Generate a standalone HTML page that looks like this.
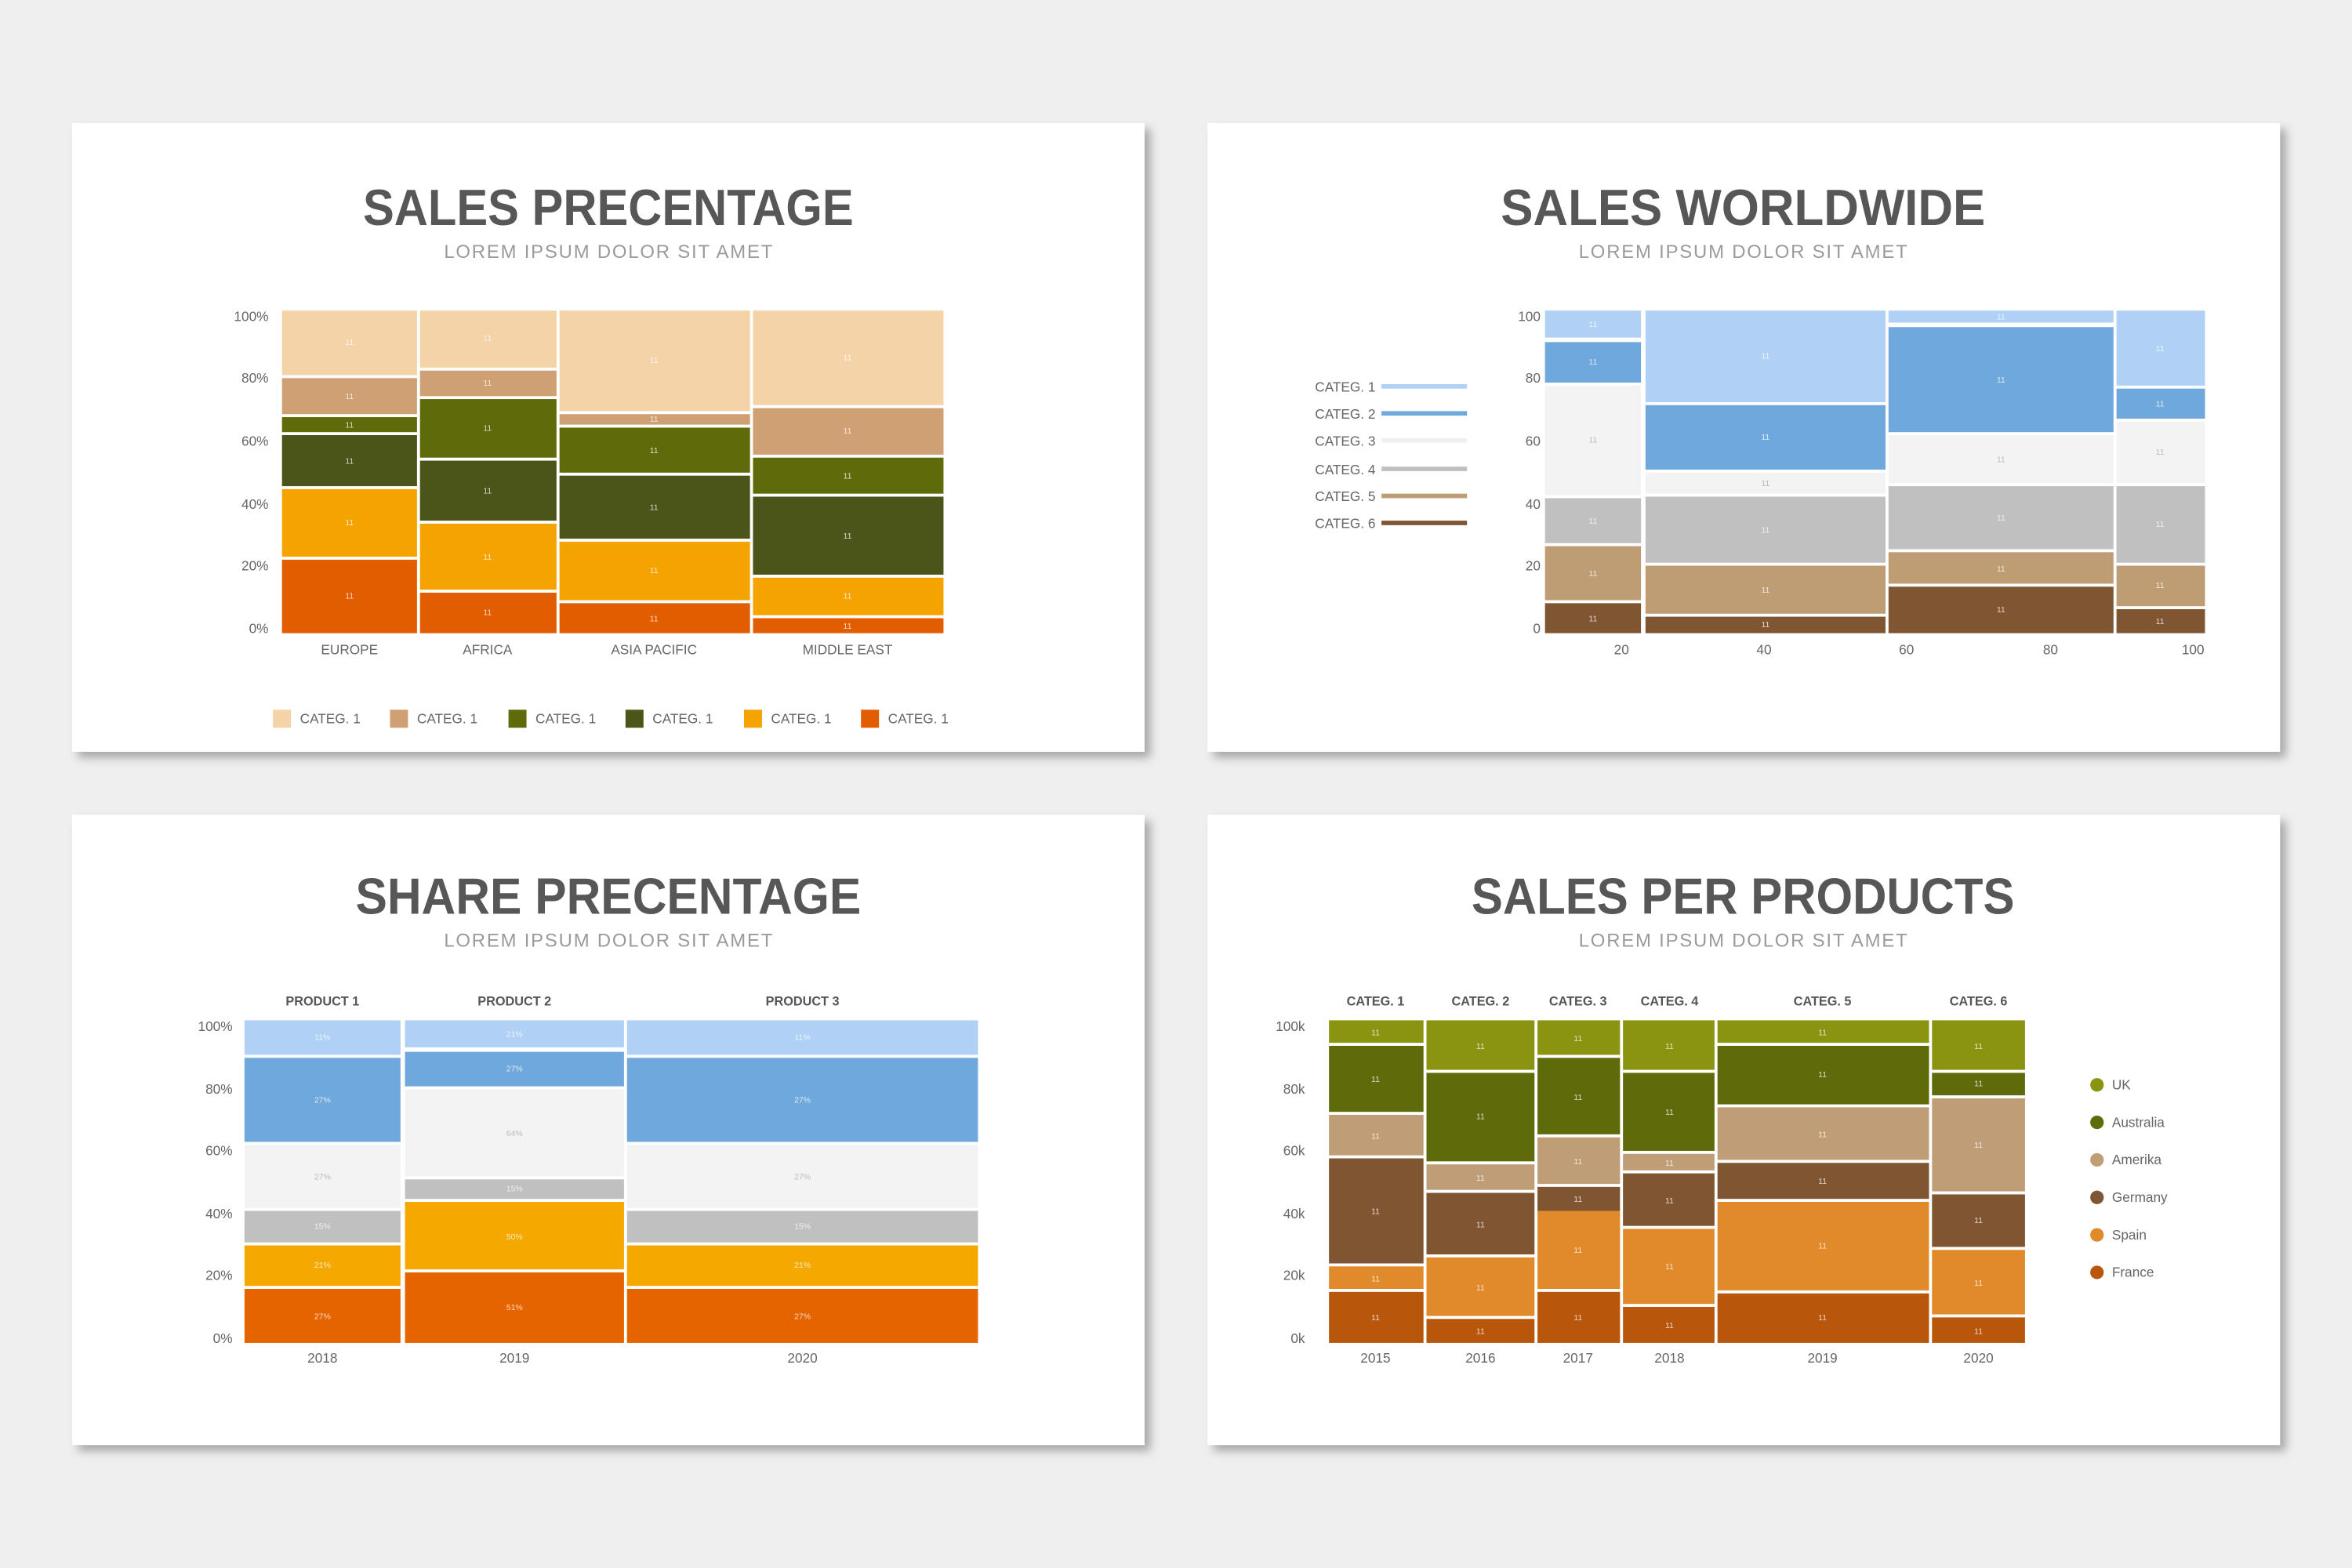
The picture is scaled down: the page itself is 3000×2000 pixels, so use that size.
<!DOCTYPE html>
<html><head><meta charset="utf-8"><style>
html,body{margin:0;padding:0;background:#efefef;}
svg{display:block;}
text{font-family:"Liberation Sans",sans-serif;}
.t{font-weight:bold;font-size:34px;fill:#575757;text-anchor:middle;}
.s{font-size:12.5px;fill:#9a9a9a;text-anchor:middle;}
.ax{font-size:9px;fill:#666;}
.r{text-anchor:end;}
.m{text-anchor:middle;}
.v{font-size:5.5px;fill:#fff;fill-opacity:.75;text-anchor:middle;}
.vg{font-size:5.5px;fill:#bbb;text-anchor:middle;}
.h{font-size:8.5px;font-weight:bold;fill:#555;text-anchor:middle;}
</style></head><body>
<svg width="3000" height="2000" viewBox="0 0 1568 1045" preserveAspectRatio="none">
<defs><filter id="sh" x="-5%" y="-5%" width="115%" height="115%"><feDropShadow dx="4" dy="4" stdDeviation="3" flood-color="#000" flood-opacity="0.3"/></filter></defs>
<rect width="1568" height="1045" fill="#efefef"/>
<g filter="url(#sh)" fill="#fff">
<rect x="48" y="82" width="715" height="419"/>
<rect x="805" y="82" width="715" height="419"/>
<rect x="48" y="543" width="715" height="420"/>
<rect x="805" y="543" width="715" height="420"/>
</g>

<!-- Titles -->
<text class="t" x="405.5" y="150" textLength="327" lengthAdjust="spacingAndGlyphs">SALES PRECENTAGE</text>
<text class="s" x="405.5" y="172" textLength="219" lengthAdjust="spacing">LOREM IPSUM DOLOR SIT AMET</text>
<text class="t" x="1162" y="150" textLength="323" lengthAdjust="spacingAndGlyphs">SALES WORLDWIDE</text>
<text class="s" x="1162" y="172" textLength="219" lengthAdjust="spacing">LOREM IPSUM DOLOR SIT AMET</text>
<text class="t" x="405.5" y="609" textLength="337" lengthAdjust="spacingAndGlyphs">SHARE PRECENTAGE</text>
<text class="s" x="405.5" y="631" textLength="219" lengthAdjust="spacing">LOREM IPSUM DOLOR SIT AMET</text>
<text class="t" x="1162" y="609" textLength="362" lengthAdjust="spacingAndGlyphs">SALES PER PRODUCTS</text>
<text class="s" x="1162" y="631" textLength="219" lengthAdjust="spacing">LOREM IPSUM DOLOR SIT AMET</text>

<!-- Chart 1 -->
<g>
<rect x="188" y="207" width="90" height="43" fill="#f5d3a9"/><rect x="188" y="252" width="90" height="24" fill="#cfa074"/><rect x="188" y="278" width="90" height="10" fill="#5f6b0a"/><rect x="188" y="290" width="90" height="34" fill="#4b5419"/><rect x="188" y="326" width="90" height="45" fill="#f5a300"/><rect x="188" y="373" width="90" height="49" fill="#e25c00"/>
<rect x="280" y="207" width="91" height="38" fill="#f5d3a9"/><rect x="280" y="247" width="91" height="17" fill="#cfa074"/><rect x="280" y="266" width="91" height="39" fill="#5f6b0a"/><rect x="280" y="307" width="91" height="40" fill="#4b5419"/><rect x="280" y="349" width="91" height="44" fill="#f5a300"/><rect x="280" y="395" width="91" height="27" fill="#e25c00"/>
<rect x="373" y="207" width="127" height="67" fill="#f5d3a9"/><rect x="373" y="276" width="127" height="7" fill="#cfa074"/><rect x="373" y="285" width="127" height="30" fill="#5f6b0a"/><rect x="373" y="317" width="127" height="42" fill="#4b5419"/><rect x="373" y="361" width="127" height="39" fill="#f5a300"/><rect x="373" y="402" width="127" height="20" fill="#e25c00"/>
<rect x="502" y="207" width="127" height="63" fill="#f5d3a9"/><rect x="502" y="272" width="127" height="31" fill="#cfa074"/><rect x="502" y="305" width="127" height="24" fill="#5f6b0a"/><rect x="502" y="331" width="127" height="52" fill="#4b5419"/><rect x="502" y="385" width="127" height="25" fill="#f5a300"/><rect x="502" y="412" width="127" height="10" fill="#e25c00"/>
<text class="v" x="233" y="230">11</text><text class="v" x="233" y="266">11</text><text class="v" x="233" y="285">11</text><text class="v" x="233" y="309">11</text><text class="v" x="233" y="350">11</text><text class="v" x="233" y="399">11</text>
<text class="v" x="325" y="227">11</text><text class="v" x="325" y="257">11</text><text class="v" x="325" y="287">11</text><text class="v" x="325" y="329">11</text><text class="v" x="325" y="373">11</text><text class="v" x="325" y="410">11</text>
<text class="v" x="436" y="242">11</text><text class="v" x="436" y="281">11</text><text class="v" x="436" y="302">11</text><text class="v" x="436" y="340">11</text><text class="v" x="436" y="382">11</text><text class="v" x="436" y="414">11</text>
<text class="v" x="565" y="240">11</text><text class="v" x="565" y="289">11</text><text class="v" x="565" y="319">11</text><text class="v" x="565" y="359">11</text><text class="v" x="565" y="399">11</text><text class="v" x="565" y="419">11</text>
<text class="ax r" x="179" y="214">100%</text><text class="ax r" x="179" y="255">80%</text><text class="ax r" x="179" y="297">60%</text><text class="ax r" x="179" y="339">40%</text><text class="ax r" x="179" y="380">20%</text><text class="ax r" x="179" y="422">0%</text>
<text class="ax m" x="233" y="436">EUROPE</text><text class="ax m" x="325" y="436">AFRICA</text><text class="ax m" x="436" y="436">ASIA PACIFIC</text><text class="ax m" x="565" y="436">MIDDLE EAST</text>
<rect x="182" y="473" width="12" height="12" fill="#f5d3a9"/><text class="ax" x="200" y="482">CATEG. 1</text>
<rect x="260" y="473" width="12" height="12" fill="#cfa074"/><text class="ax" x="278" y="482">CATEG. 1</text>
<rect x="339" y="473" width="12" height="12" fill="#5f6b0a"/><text class="ax" x="357" y="482">CATEG. 1</text>
<rect x="417" y="473" width="12" height="12" fill="#4b5419"/><text class="ax" x="435" y="482">CATEG. 1</text>
<rect x="496" y="473" width="12" height="12" fill="#f5a300"/><text class="ax" x="514" y="482">CATEG. 1</text>
<rect x="574" y="473" width="12" height="12" fill="#e25c00"/><text class="ax" x="592" y="482">CATEG. 1</text>
</g>

<!-- Chart 2 -->
<g>
<rect x="1030" y="207" width="64" height="18" fill="#b0d1f5"/><rect x="1030" y="228" width="64" height="27" fill="#6fa8dc"/><rect x="1030" y="257" width="64" height="73" fill="#f3f3f3"/><rect x="1030" y="332" width="64" height="30" fill="#c0c0c0"/><rect x="1030" y="364" width="64" height="36" fill="#bf9d74"/><rect x="1030" y="402" width="64" height="20" fill="#7f5532"/>
<rect x="1097" y="207" width="160" height="61" fill="#b0d1f5"/><rect x="1097" y="270" width="160" height="43" fill="#6fa8dc"/><rect x="1097" y="315" width="160" height="14" fill="#f3f3f3"/><rect x="1097" y="331" width="160" height="44" fill="#c0c0c0"/><rect x="1097" y="377" width="160" height="32" fill="#bf9d74"/><rect x="1097" y="411" width="160" height="11" fill="#7f5532"/>
<rect x="1259" y="207" width="150" height="8" fill="#b0d1f5"/><rect x="1259" y="218" width="150" height="70" fill="#6fa8dc"/><rect x="1259" y="290" width="150" height="32" fill="#f3f3f3"/><rect x="1259" y="324" width="150" height="42" fill="#c0c0c0"/><rect x="1259" y="368" width="150" height="21" fill="#bf9d74"/><rect x="1259" y="391" width="150" height="31" fill="#7f5532"/>
<rect x="1411" y="207" width="59" height="50" fill="#b0d1f5"/><rect x="1411" y="259" width="59" height="20" fill="#6fa8dc"/><rect x="1411" y="281" width="59" height="41" fill="#f3f3f3"/><rect x="1411" y="324" width="59" height="51" fill="#c0c0c0"/><rect x="1411" y="377" width="59" height="27" fill="#bf9d74"/><rect x="1411" y="406" width="59" height="16" fill="#7f5532"/>
<text class="v" x="1062" y="218">11</text><text class="v" x="1062" y="243">11</text><text class="vg" x="1062" y="295">11</text><text class="v" x="1062" y="349">11</text><text class="v" x="1062" y="384">11</text><text class="v" x="1062" y="414">11</text>
<text class="v" x="1177" y="239">11</text><text class="v" x="1177" y="293">11</text><text class="vg" x="1177" y="324">11</text><text class="v" x="1177" y="355">11</text><text class="v" x="1177" y="395">11</text><text class="v" x="1177" y="418">11</text>
<text class="v" x="1334" y="213">11</text><text class="v" x="1334" y="255">11</text><text class="vg" x="1334" y="308">11</text><text class="v" x="1334" y="347">11</text><text class="v" x="1334" y="381">11</text><text class="v" x="1334" y="408">11</text>
<text class="v" x="1440" y="234">11</text><text class="v" x="1440" y="271">11</text><text class="vg" x="1440" y="303">11</text><text class="v" x="1440" y="351">11</text><text class="v" x="1440" y="392">11</text><text class="v" x="1440" y="416">11</text>
<text class="ax r" x="1027" y="214">100</text><text class="ax r" x="1027" y="255">80</text><text class="ax r" x="1027" y="297">60</text><text class="ax r" x="1027" y="339">40</text><text class="ax r" x="1027" y="380">20</text><text class="ax r" x="1027" y="422">0</text>
<text class="ax m" x="1081" y="436">20</text><text class="ax m" x="1176" y="436">40</text><text class="ax m" x="1271" y="436">60</text><text class="ax m" x="1367" y="436">80</text><text class="ax m" x="1462" y="436">100</text>
<text class="ax r" x="917" y="261">CATEG. 1</text><rect x="921" y="256" width="57" height="3" fill="#b0d1f5"/>
<text class="ax r" x="917" y="279">CATEG. 2</text><rect x="921" y="274" width="57" height="3" fill="#6fa8dc"/>
<text class="ax r" x="917" y="297">CATEG. 3</text><rect x="921" y="292" width="57" height="3" fill="#f0f0f0"/>
<text class="ax r" x="917" y="316">CATEG. 4</text><rect x="921" y="311" width="57" height="3" fill="#c0c0c0"/>
<text class="ax r" x="917" y="334">CATEG. 5</text><rect x="921" y="329" width="57" height="3" fill="#bf9d74"/>
<text class="ax r" x="917" y="352">CATEG. 6</text><rect x="921" y="347" width="57" height="3" fill="#7f5532"/>
</g>

<!-- Chart 3 -->
<g>
<rect x="163" y="680" width="104" height="23" fill="#b0d1f5"/><rect x="163" y="705" width="104" height="56" fill="#6fa8dc"/><rect x="163" y="763" width="104" height="42" fill="#f3f3f3"/><rect x="163" y="807" width="104" height="21" fill="#c0c0c0"/><rect x="163" y="830" width="104" height="27" fill="#f5a800"/><rect x="163" y="859" width="104" height="36" fill="#e66400"/>
<rect x="270" y="680" width="146" height="18" fill="#b0d1f5"/><rect x="270" y="701" width="146" height="23" fill="#6fa8dc"/><rect x="270" y="726" width="146" height="58" fill="#f3f3f3"/><rect x="270" y="786" width="146" height="13" fill="#c0c0c0"/><rect x="270" y="801" width="146" height="45" fill="#f5a800"/><rect x="270" y="848" width="146" height="47" fill="#e66400"/>
<rect x="418" y="680" width="234" height="23" fill="#b0d1f5"/><rect x="418" y="705" width="234" height="56" fill="#6fa8dc"/><rect x="418" y="763" width="234" height="42" fill="#f3f3f3"/><rect x="418" y="807" width="234" height="21" fill="#c0c0c0"/><rect x="418" y="830" width="234" height="27" fill="#f5a800"/><rect x="418" y="859" width="234" height="36" fill="#e66400"/>
<text class="v" x="215" y="693">11%</text><text class="v" x="215" y="735">27%</text><text class="vg" x="215" y="786">27%</text><text class="v" x="215" y="819">15%</text><text class="v" x="215" y="845">21%</text><text class="v" x="215" y="879">27%</text>
<text class="v" x="343" y="691">21%</text><text class="v" x="343" y="714">27%</text><text class="vg" x="343" y="757">64%</text><text class="v" x="343" y="794">15%</text><text class="v" x="343" y="826">50%</text><text class="v" x="343" y="873">51%</text>
<text class="v" x="535" y="693">11%</text><text class="v" x="535" y="735">27%</text><text class="vg" x="535" y="786">27%</text><text class="v" x="535" y="819">15%</text><text class="v" x="535" y="845">21%</text><text class="v" x="535" y="879">27%</text>
<text class="h" x="215" y="670">PRODUCT 1</text><text class="h" x="343" y="670">PRODUCT 2</text><text class="h" x="535" y="670">PRODUCT 3</text>
<text class="ax r" x="155" y="687">100%</text><text class="ax r" x="155" y="729">80%</text><text class="ax r" x="155" y="770">60%</text><text class="ax r" x="155" y="812">40%</text><text class="ax r" x="155" y="853">20%</text><text class="ax r" x="155" y="895">0%</text>
<text class="ax m" x="215" y="908">2018</text><text class="ax m" x="343" y="908">2019</text><text class="ax m" x="535" y="908">2020</text>
</g>

<!-- Chart 4 -->
<g>
<rect x="886" y="680" width="63" height="15" fill="#8a9411"/><rect x="886" y="697" width="63" height="44" fill="#5f6b0a"/><rect x="886" y="743" width="63" height="27" fill="#bf9e77"/><rect x="886" y="772" width="63" height="70" fill="#7f5532"/><rect x="886" y="844" width="63" height="15" fill="#e08a2c"/><rect x="886" y="861" width="63" height="34" fill="#b8560b"/>
<rect x="951" y="680" width="72" height="33" fill="#8a9411"/><rect x="951" y="715" width="72" height="59" fill="#5f6b0a"/><rect x="951" y="776" width="72" height="17" fill="#bf9e77"/><rect x="951" y="795" width="72" height="41" fill="#7f5532"/><rect x="951" y="838" width="72" height="39" fill="#e08a2c"/><rect x="951" y="879" width="72" height="16" fill="#b8560b"/>
<rect x="1025" y="680" width="55" height="23" fill="#8a9411"/><rect x="1025" y="705" width="55" height="51" fill="#5f6b0a"/><rect x="1025" y="758" width="55" height="31" fill="#bf9e77"/><rect x="1025" y="791" width="55" height="16" fill="#7f5532"/><rect x="1025" y="807" width="55" height="52" fill="#e08a2c"/><rect x="1025" y="861" width="55" height="34" fill="#b8560b"/>
<rect x="1082" y="680" width="61" height="33" fill="#8a9411"/><rect x="1082" y="715" width="61" height="52" fill="#5f6b0a"/><rect x="1082" y="769" width="61" height="11" fill="#bf9e77"/><rect x="1082" y="782" width="61" height="35" fill="#7f5532"/><rect x="1082" y="819" width="61" height="50" fill="#e08a2c"/><rect x="1082" y="871" width="61" height="24" fill="#b8560b"/>
<rect x="1145" y="680" width="141" height="15" fill="#8a9411"/><rect x="1145" y="697" width="141" height="39" fill="#5f6b0a"/><rect x="1145" y="738" width="141" height="35" fill="#bf9e77"/><rect x="1145" y="775" width="141" height="24" fill="#7f5532"/><rect x="1145" y="801" width="141" height="59" fill="#e08a2c"/><rect x="1145" y="862" width="141" height="33" fill="#b8560b"/>
<rect x="1288" y="680" width="62" height="33" fill="#8a9411"/><rect x="1288" y="715" width="62" height="15" fill="#5f6b0a"/><rect x="1288" y="732" width="62" height="62" fill="#bf9e77"/><rect x="1288" y="796" width="62" height="35" fill="#7f5532"/><rect x="1288" y="833" width="62" height="43" fill="#e08a2c"/><rect x="1288" y="878" width="62" height="17" fill="#b8560b"/>
<text class="v" x="917" y="690">11</text><text class="v" x="917" y="721">11</text><text class="v" x="917" y="759">11</text><text class="v" x="917" y="809">11</text><text class="v" x="917" y="854">11</text><text class="v" x="917" y="880">11</text>
<text class="v" x="987" y="699">11</text><text class="v" x="987" y="746">11</text><text class="v" x="987" y="787">11</text><text class="v" x="987" y="818">11</text><text class="v" x="987" y="860">11</text><text class="v" x="987" y="889">11</text>
<text class="v" x="1052" y="694">11</text><text class="v" x="1052" y="733">11</text><text class="v" x="1052" y="776">11</text><text class="v" x="1052" y="801">11</text><text class="v" x="1052" y="835">11</text><text class="v" x="1052" y="880">11</text>
<text class="v" x="1113" y="699">11</text><text class="v" x="1113" y="743">11</text><text class="v" x="1113" y="777">11</text><text class="v" x="1113" y="802">11</text><text class="v" x="1113" y="846">11</text><text class="v" x="1113" y="885">11</text>
<text class="v" x="1215" y="690">11</text><text class="v" x="1215" y="718">11</text><text class="v" x="1215" y="758">11</text><text class="v" x="1215" y="789">11</text><text class="v" x="1215" y="832">11</text><text class="v" x="1215" y="880">11</text>
<text class="v" x="1319" y="699">11</text><text class="v" x="1319" y="724">11</text><text class="v" x="1319" y="765">11</text><text class="v" x="1319" y="815">11</text><text class="v" x="1319" y="857">11</text><text class="v" x="1319" y="889">11</text>
<text class="h" x="917" y="670">CATEG. 1</text><text class="h" x="987" y="670">CATEG. 2</text><text class="h" x="1052" y="670">CATEG. 3</text><text class="h" x="1113" y="670">CATEG. 4</text><text class="h" x="1215" y="670">CATEG. 5</text><text class="h" x="1319" y="670">CATEG. 6</text>
<text class="ax r" x="870" y="687">100k</text><text class="ax r" x="870" y="729">80k</text><text class="ax r" x="870" y="770">60k</text><text class="ax r" x="870" y="812">40k</text><text class="ax r" x="870" y="853">20k</text><text class="ax r" x="870" y="895">0k</text>
<text class="ax m" x="917" y="908">2015</text><text class="ax m" x="987" y="908">2016</text><text class="ax m" x="1052" y="908">2017</text><text class="ax m" x="1113" y="908">2018</text><text class="ax m" x="1215" y="908">2019</text><text class="ax m" x="1319" y="908">2020</text>
<circle cx="1398" cy="723" r="4.5" fill="#8a9411"/><text class="ax" x="1408" y="726">UK</text>
<circle cx="1398" cy="748" r="4.5" fill="#5f6b0a"/><text class="ax" x="1408" y="751">Australia</text>
<circle cx="1398" cy="773" r="4.5" fill="#bf9e77"/><text class="ax" x="1408" y="776">Amerika</text>
<circle cx="1398" cy="798" r="4.5" fill="#7f5532"/><text class="ax" x="1408" y="801">Germany</text>
<circle cx="1398" cy="823" r="4.5" fill="#e08a2c"/><text class="ax" x="1408" y="826">Spain</text>
<circle cx="1398" cy="848" r="4.5" fill="#b8560b"/><text class="ax" x="1408" y="851">France</text>
</g>
</svg>
</body></html>
